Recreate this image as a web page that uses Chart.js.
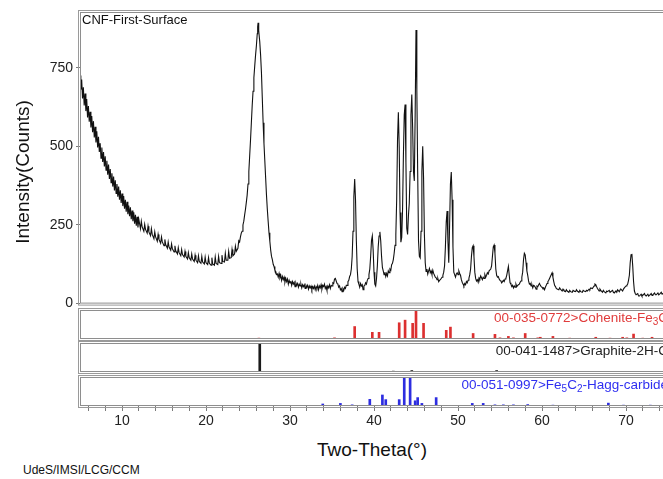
<!DOCTYPE html>
<html>
<head>
<meta charset="utf-8">
<script src="https://cdn.jsdelivr.net/npm/chart.js@4.4.1/dist/chart.umd.min.js"></script>
<style>
body{margin:0;background:#fff;width:663px;height:479px;overflow:hidden;font-family:"Liberation Sans",Arial,sans-serif;}
#wrap{position:relative;width:720px;height:479px;}
canvas{position:absolute;left:0;}
.txt{position:absolute;white-space:nowrap;color:#111;}
</style>
</head>
<body>
<div id="wrap">
<canvas id="mainChart" width="720" height="315" style="top:0px"></canvas>
<canvas id="pdf1" width="720" height="37" style="top:306px"></canvas>
<canvas id="pdf2" width="720" height="37" style="top:339px"></canvas>
<canvas id="pdf3" width="720" height="57" style="top:373px"></canvas>
<div class="txt" style="left:272px;width:200px;text-align:center;top:439px;font-size:19px;line-height:22px">Two-Theta(°)</div>
<div class="txt" style="left:23px;top:463px;font-size:12px;line-height:14px">UdeS/IMSI/LCG/CCM</div>
</div>
<script>
// measured scan, [two-theta, counts]
var scan = [
[5.0,725],[5.1,680],[5.2,712],[5.3,652],[5.4,688],[5.5,630],[5.6,668],[5.7,612],[5.8,650],[5.9,592],
[6.0,628],[6.1,578],[6.2,610],[6.3,560],[6.4,596],[6.5,545],[6.6,580],[6.7,528],[6.8,562],[6.9,512],
[7.0,548],[7.1,496],[7.2,530],[7.3,482],[7.4,510],[7.5,462],[7.6,496],[7.7,450],[7.8,482],[7.9,436],
[8.0,468],[8.1,424],[8.2,454],[8.3,410],[8.4,442],[8.5,396],[8.6,428],[8.7,384],[8.8,414],[8.9,372],
[9.0,404],[9.1,360],[9.2,392],[9.3,350],[9.4,380],[9.5,340],[9.6,372],[9.7,330],[9.8,360],[9.9,320],
[10.0,350],[10.1,310],[10.2,342],[10.3,302],[10.4,330],[10.5,292],[10.6,324],[10.7,284],[10.8,312],[10.9,278],
[11.0,306],[11.1,268],[11.2,296],[11.3,262],[11.4,290],[11.5,254],[11.6,282],[11.7,248],[11.8,276],[11.9,242],
[12.0,268],[12.2,238],[12.3,262],[12.4,244],[12.6,230],[12.7,252],[12.8,236],[13.0,224],[13.1,246],[13.2,228],
[13.4,216],[13.5,238],[13.6,220],[13.8,206],[13.9,228],[14.0,212],[14.2,198],[14.3,220],[14.4,204],[14.6,192],
[14.7,212],[14.8,196],[15.0,184],[15.1,204],[15.2,188],[15.4,176],[15.5,196],[15.6,180],[15.8,170],[15.9,190],
[16.0,174],[16.2,164],[16.3,184],[16.4,168],[16.6,158],[16.7,178],[16.8,162],[17.0,152],[17.1,172],[17.2,156],
[17.4,148],[17.5,166],[17.6,150],[17.8,142],[17.9,162],[18.0,146],[18.2,138],[18.3,158],[18.4,142],[18.6,134],
[18.7,154],[18.8,138],[19.0,130],[19.1,152],[19.2,134],[19.4,128],[19.5,150],[19.6,132],[19.8,126],[19.9,148],
[20.0,130],[20.2,124],[20.3,146],[20.4,128],[20.6,122],[20.7,146],[20.8,126],[21.0,122],[21.1,148],[21.2,128],
[21.4,124],[21.5,150],[21.6,130],[21.8,128],[21.9,154],[22.0,134],[22.2,132],[22.3,160],[22.4,138],[22.6,138],
[22.7,166],[22.8,144],[23.0,146],[23.1,172],[23.2,152],[23.4,158],[23.5,182],[23.6,166],[23.8,176],[23.9,200],
[24.0,196],[24.1,212],[24.2,224],[24.3,230],[24.4,250],[24.5,262],[24.6,282],[24.7,300],[24.8,322],[24.9,345],
[25.0,380],[25.1,420],[25.2,470],[25.3,520],[25.4,575],[25.5,630],[25.6,675],[25.7,718],[25.8,755],[25.9,790],
[26.0,820],[26.1,858],[26.15,880],[26.2,893],[26.25,885],[26.3,868],[26.4,832],[26.5,790],[26.6,735],
[26.7,655],[26.8,575],[26.9,510],[27.0,455],[27.1,400],[27.2,345],[27.3,300],[27.4,262],[27.5,225],[27.6,198],
[27.7,170],[27.8,150],[27.9,140],[28.0,125],[28.1,118],[28.2,106],[28.3,102],[28.4,92],[28.5,94],[28.6,84],
[28.7,96],[28.8,82],[28.9,90],[29.0,74],[29.1,86],[29.2,76],[29.3,84],[29.4,68],[29.5,80],[29.6,70],
[29.7,78],[29.8,62],[29.9,74],[30.0,66],[30.1,72],[30.2,58],[30.3,70],[30.4,62],[30.5,68],[30.6,54],
[30.7,66],[30.8,58],[30.9,64],[31.0,52],[31.1,62],[31.2,56],[31.3,62],[31.4,50],[31.5,60],[31.6,54],
[31.7,60],[31.8,48],[31.9,58],[32.0,52],[32.1,58],[32.2,46],[32.3,56],[32.4,50],[32.5,56],[32.6,44],
[32.7,54],[32.8,48],[32.9,56],[33.0,44],[33.1,54],[33.2,48],[33.3,58],[33.4,44],[33.5,56],[33.6,50],
[33.7,60],[33.8,46],[33.9,58],[34.0,54],[34.1,62],[34.2,48],[34.3,54],[34.4,42],[34.5,56],[34.6,50],
[34.7,60],[34.8,48],[34.9,58],[35.0,56],[35.1,66],[35.2,64],[35.3,78],[35.4,80],[35.5,72],[35.6,64],
[35.7,62],[35.8,52],[35.9,56],[36.0,44],[36.1,48],[36.2,38],[36.3,48],[36.4,42],[36.5,52],[36.6,48],
[36.7,58],[36.8,58],[36.9,70],[37.0,74],[37.1,86],[37.2,92],[37.3,110],[37.4,150],[37.5,230],[37.6,340],
[37.7,396],[37.8,330],[37.9,200],[38.0,110],[38.1,70],[38.2,62],[38.3,52],[38.4,64],[38.5,56],[38.6,60],
[38.7,44],[38.8,56],[38.9,58],[39.0,66],[39.1,62],[39.2,74],[39.3,80],[39.4,92],[39.5,110],[39.6,150],
[39.7,200],[39.8,215],[39.9,170],[40.0,100],[40.1,62],[40.2,56],[40.3,80],[40.4,120],[40.5,180],[40.6,215],
[40.7,228],[40.8,200],[40.9,150],[41.0,115],[41.1,104],[41.2,92],[41.3,100],[41.4,86],[41.5,96],[41.6,88],
[41.7,104],[41.8,98],[41.9,110],[42.0,106],[42.1,124],[42.2,128],[42.3,140],[42.4,160],[42.5,185],[42.6,220],
[42.7,330],[42.8,520],[42.9,608],[43.0,500],[43.1,290],[43.2,195],[43.3,210],[43.4,300],[43.5,470],[43.6,600],
[43.7,633],[43.8,450],[43.9,240],[44.0,220],[44.1,280],[44.2,320],[44.3,420],[44.4,600],[44.5,665],[44.6,560],
[44.7,420],[44.8,390],[44.9,600],[45.0,870],[45.1,680],[45.2,420],[45.3,200],[45.4,150],[45.5,145],[45.6,230],
[45.7,420],[45.8,500],[45.9,400],[46.0,220],[46.1,130],[46.2,102],[46.3,110],[46.4,94],[46.5,104],[46.6,112],
[46.7,98],[46.8,104],[46.9,92],[47.0,106],[47.1,96],[47.2,90],[47.3,84],[47.4,82],[47.5,76],[47.6,80],
[47.7,70],[47.8,74],[47.9,76],[48.0,80],[48.1,84],[48.2,90],[48.3,100],[48.4,120],[48.5,180],[48.6,260],
[48.7,294],[48.8,200],[48.9,130],[49.0,250],[49.1,380],[49.2,418],[49.3,330],[49.4,180],[49.5,100],[49.6,92],
[49.7,84],[49.8,94],[49.9,98],[50.0,92],[50.1,104],[50.2,96],[50.3,90],[50.4,76],[50.5,68],[50.6,62],
[50.7,56],[50.8,64],[50.9,60],[51.0,70],[51.1,66],[51.2,74],[51.3,80],[51.4,92],[51.5,110],[51.6,150],
[51.7,178],[51.8,184],[51.9,150],[52.0,100],[52.1,80],[52.2,72],[52.3,76],[52.4,68],[52.5,82],[52.6,78],
[52.7,88],[52.8,82],[52.9,76],[53.0,84],[53.1,80],[53.2,92],[53.3,84],[53.4,90],[53.5,98],[53.6,94],
[53.7,104],[53.8,104],[53.9,110],[54.0,120],[54.1,150],[54.2,180],[54.3,186],[54.4,160],[54.5,110],[54.6,90],
[54.7,84],[54.8,86],[54.9,78],[55.0,74],[55.1,72],[55.2,66],[55.3,70],[55.4,74],[55.5,70],[55.6,78],
[55.7,80],[55.8,90],[55.9,104],[56.0,118],[56.1,90],[56.2,66],[56.3,62],[56.4,54],[56.5,58],[56.6,50],
[56.7,56],[56.8,52],[56.9,62],[57.0,54],[57.1,58],[57.2,60],[57.3,62],[57.4,68],[57.5,72],[57.6,84],
[57.7,100],[57.8,140],[57.9,160],[58.0,155],[58.1,130],[58.2,104],[58.3,90],[58.4,72],[58.5,62],[58.6,64],
[58.7,56],[58.8,60],[58.9,50],[59.0,58],[59.1,56],[59.2,52],[59.3,46],[59.4,56],[59.5,54],[59.6,60],
[59.7,64],[59.8,58],[59.9,54],[60.0,52],[60.1,48],[60.2,50],[60.3,44],[60.4,52],[60.5,58],[60.6,64],
[60.7,70],[60.8,74],[60.9,80],[61.0,86],[61.1,92],[61.2,98],[61.3,84],[61.4,70],[61.5,58],[61.6,54],
[61.7,48],[61.8,46],[62.0,44],[62.1,50],[62.2,46],[62.4,40],[62.5,46],[62.6,42],[62.8,38],[62.9,44],
[63.0,40],[63.2,36],[63.3,42],[63.4,38],[63.6,36],[63.7,42],[63.8,40],[64.0,38],[64.1,44],[64.2,40],
[64.4,36],[64.5,42],[64.6,38],[64.8,36],[64.9,42],[65.0,40],[65.2,38],[65.3,42],[65.4,40],[65.6,46],
[65.7,44],[65.8,50],[66.0,48],[66.1,52],[66.2,56],[66.3,62],[66.4,60],[66.5,54],[66.6,48],[66.8,40],
[66.9,46],[67.0,42],[67.2,36],[67.3,42],[67.4,38],[67.6,34],[67.7,40],[67.8,38],[68.0,42],[68.1,36],
[68.2,36],[68.4,42],[68.5,36],[68.6,34],[68.8,40],[68.9,36],[69.0,44],[69.2,38],[69.3,44],[69.4,46],
[69.6,40],[69.7,46],[69.8,50],[70.0,56],[70.1,58],[70.2,62],[70.3,74],[70.4,90],[70.5,130],[70.6,155],
[70.7,158],[70.8,120],[70.9,70],[71.0,40],[71.1,32],[71.2,28],[71.4,32],[71.5,24],[71.6,24],[71.8,30],
[71.9,24],[72.0,26],[72.2,32],[72.3,26],[72.4,24],[72.6,30],[72.7,24],[72.8,26],[73.0,32],[73.1,26],
[73.2,28],[73.4,34],[73.5,28],[73.6,28],[73.8,34],[73.9,28],[74.0,30],[74.2,36],[74.3,30],[74.4,30],
[74.6,36],[74.8,30],[75.0,34],[75.5,30],[76.0,34],[76.5,28],[77.0,32],[77.5,30],[78.0,34],[78.5,28],
[79.0,32],[79.5,30],[80.0,32]
];

// reference patterns, [two-theta, relative intensity]
var cohenite = [
[26.3,3],[29.6,2],[35.3,4],[37.7,43],[39.8,23],[40.6,23],[43.0,56],[43.7,65],[44.6,54],[45.0,100],
[45.9,54],[48.6,30],[49.1,41],[51.8,19],[54.4,16],[55.0,4],[56.0,9],[56.6,4],[58.0,19],[59.5,4],
[59.8,6],[61.3,9],[63.3,3],[66.4,6],[68.1,3],[69.6,6],[70.1,4],[70.9,17],[72.0,3],[73.1,6],[78.6,8]
];
var graphite = [[26.4,100],[42.3,3],[44.5,5],[50.4,2],[54.6,5],[59.8,2],[77.4,3]];
var hagg = [
[33.9,7],[36.0,9],[37.4,4],[39.5,23],[41.0,38],[41.4,22],[43.0,22],[43.6,100],[44.3,100],[44.9,18],
[45.2,29],[45.7,9],[47.4,29],[51.7,9],[53.0,9],[54.4,4],[55.4,4],[56.6,4],[58.3,5],[61.3,3],
[67.9,10],[69.7,3],[72.9,3]
];

var yTicks = [0, 250, 500, 750];
var xMinorTicks = [6,8,10,12,14,16,18,20,22,24,26,28,30,32,34,36,38,40,42,44,46,48,50,52,54,56,58,60,62,64,66,68,70,72,74,76,78,80];
var xLabels = [10, 20, 30, 40, 50, 60, 70];

var fam = '"Liberation Sans", Arial, sans-serif';
Chart.defaults.font.family = fam;
Chart.defaults.color = '#222';

function toPoints(arr){
    var out = [];
    for(var i=0;i<arr.length;i++){
        out.push({x:arr[i][0], y:arr[i][1]});
    }
    return out;
}

// double grey frame round each plot box
function frame(chart){
    var a = chart.chartArea;
    var ctx = chart.ctx;
    ctx.save();
    ctx.lineWidth = 1;
    ctx.strokeStyle = '#8e8e8e';
    ctx.strokeRect(a.left+0.5, a.top+0.5, a.right-a.left-1, a.bottom-a.top-1);
    ctx.strokeStyle = '#9a9a9a';
    ctx.strokeRect(a.left-1.5, a.top-1.5, a.right-a.left+3, a.bottom-a.top+3);
    ctx.restore();
}

// text with subscripts, right aligned
function drawLabel(ctx, parts, right, y, color){
    ctx.save();
    ctx.fillStyle = color;
    ctx.textBaseline = 'middle';
    var w = 0, i;
    for(i=0;i<parts.length;i++){
        ctx.font = (parts[i][1] ? '10px ' : '13.5px ') + fam;
        w += ctx.measureText(parts[i][0]).width;
    }
    var x = right - w;
    for(i=0;i<parts.length;i++){
        ctx.font = (parts[i][1] ? '10px ' : '13.5px ') + fam;
        ctx.fillText(parts[i][0], x, y + (parts[i][1] ? 4 : 0));
        x += ctx.measureText(parts[i][0]).width;
    }
    ctx.restore();
}

var mainChart = new Chart(document.getElementById('mainChart').getContext('2d'), {
    type: 'line',
    data: {
        datasets: [{
            data: toPoints(scan),
            borderColor: '#111',
            borderWidth: 1.1,
            pointRadius: 0,
            tension: 0,
            fill: false
        }]
    },
    options: {
        responsive: false,
        animation: false,
        events: [],
        layout: {padding: {left: 0, right: 10, top: 12, bottom: 10}},
        plugins: {legend: {display: false}, tooltip: {enabled: false}},
        scales: {
            x: {type: 'linear', min: 5, max: 80, display: false},
            y: {
                min: 0, max: 927,
                afterBuildTicks: function(scale){ scale.ticks = yTicks.map(function(v){ return {value: v}; }); },
                afterFit: function(scale){ scale.width = 80; },
                grid: {drawOnChartArea: false, tickLength: 4, color: '#7a7a7a'},
                border: {display: false},
                ticks: {font: {size: 14}, color: '#222', padding: 3}
            }
        }
    },
    plugins: [{
        id: 'mainDeco',
        afterDraw: function(chart){
            frame(chart);
            var ctx = chart.ctx;
            ctx.save();
            ctx.fillStyle = '#111';
            ctx.font = '13px ' + fam;
            ctx.textBaseline = 'middle';
            ctx.fillText('CNF-First-Surface', 82, 20);
            ctx.translate(24, 172);
            ctx.rotate(-Math.PI/2);
            ctx.textAlign = 'center';
            ctx.font = '19px ' + fam;
            ctx.fillText('Intensity(Counts)', 0, 0);
            ctx.restore();
        }
    }]
});

function pdfPanel(id, sticks, color, parts, textColor, withAxis){
    var xScale = {type: 'linear', min: 5, max: 80, offset: false, display: false, grid: {offset: false}};
    if(withAxis){
        xScale = {
            type: 'linear', min: 5, max: 80, offset: false, position: 'bottom',
            afterBuildTicks: function(scale){ scale.ticks = xMinorTicks.map(function(v){ return {value: v}; }); },
            afterFit: function(scale){ scale.height = 24; },
            grid: {drawOnChartArea: false, tickLength: 5, color: '#7a7a7a', offset: false},
            border: {display: false},
            ticks: {
                autoSkip: false, maxRotation: 0, font: {size: 14}, color: '#222', padding: 2,
                callback: function(v){ return xLabels.indexOf(v) >= 0 ? String(v) : ''; }
            }
        };
    }
    return new Chart(document.getElementById(id).getContext('2d'), {
        type: 'bar',
        data: {
            datasets: [{
                data: toPoints(sticks),
                backgroundColor: color,
                borderWidth: 0,
                barThickness: 2
            }]
        },
        options: {
            responsive: false,
            animation: false,
            events: [],
            layout: {padding: {left: 80, right: 10, top: 4, bottom: withAxis ? 0 : 4}},
            plugins: {legend: {display: false}, tooltip: {enabled: false}},
            scales: {
                x: xScale,
                y: {min: 0, max: 100, display: false}
            }
        },
        plugins: [{
            id: id + 'Deco',
            afterDraw: function(chart){
                frame(chart);
                drawLabel(chart.ctx, parts, 668, chart.chartArea.top + 8, textColor);
            }
        }]
    });
}

pdfPanel('pdf1', cohenite, '#dc3030', [['00-035-0772>Cohenite-Fe', false], ['3', true], ['C', false]], '#e03c3c', false);
pdfPanel('pdf2', graphite, '#1a1a1a', [['00-041-1487>Graphite-2H-C', false]], '#222', false);
pdfPanel('pdf3', hagg, '#2d2de0', [['00-051-0997>Fe', false], ['5', true], ['C', false], ['2', true], ['-Hagg-carbide', false]], '#2f2ff0', true);
</script>
</body>
</html>
